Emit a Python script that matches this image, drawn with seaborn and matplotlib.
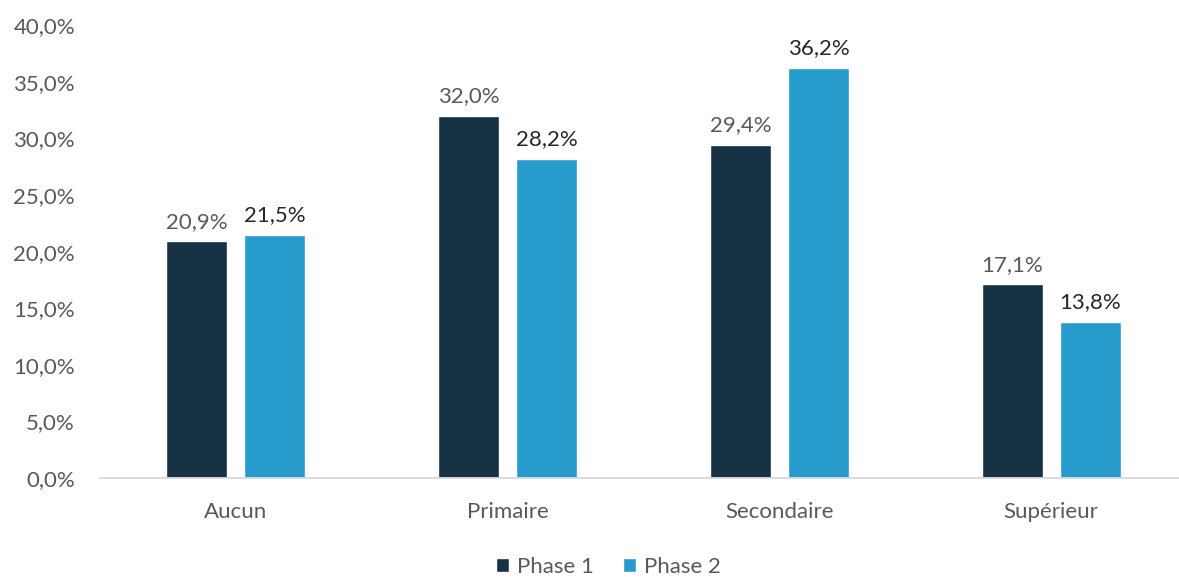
import matplotlib
matplotlib.use("Agg")
import matplotlib.pyplot as plt
from matplotlib.patches import Patch
import seaborn as sns
import pandas as pd

categories = ["Aucun", "Primaire", "Secondaire", "Supérieur"]
phase_names = ["Phase 1", "Phase 2"]
phase1 = [20.9, 32.0, 29.4, 17.1]
phase2 = [21.5, 28.2, 36.2, 13.8]
y_ticks = [0, 5, 10, 15, 20, 25, 30, 35, 40]

colors = ["#163244", "#289BCD"]
label_colors = ["#595959", "#262626"]

df = pd.DataFrame({
    "cat": categories * 2,
    "phase": [phase_names[0]] * 4 + [phase_names[1]] * 4,
    "val": phase1 + phase2,
})

sns.set_theme(style="white")
plt.rcParams["font.family"] = ["Lato", "DejaVu Sans"]

fig = plt.figure(figsize=(11.79, 5.79), dpi=100)
ax = fig.add_axes([0.0848, 0.1744, 0.922, 0.782])

sns.barplot(data=df, x="cat", y="val", hue="phase", order=categories,
            hue_order=phase_names, palette=colors, width=0.575, gap=0.22,
            saturation=1, ax=ax, legend=False)

ax.set_xlim(-0.5, 3.5)
ax.set_ylim(0, 40)
ax.set_yticks(y_ticks)
ax.set_yticklabels([f"{v:.1f}".replace(".", ",") + "%" for v in y_ticks])
ax.set_xlabel("")
ax.set_ylabel("")
ax.tick_params(axis="both", length=0, labelsize=16, labelcolor="#595959")
ax.tick_params(axis="x", pad=17)
ax.tick_params(axis="y", pad=18)

for s in ["top", "right", "left"]:
    ax.spines[s].set_visible(False)
ax.spines["bottom"].set_color("#D9D9D9")
ax.spines["bottom"].set_linewidth(1.3)

for container, vals, lc in zip(ax.containers, [phase1, phase2], label_colors):
    labels = [f"{v:.1f}".replace(".", ",") + "%" for v in vals]
    ax.bar_label(container, labels=labels, padding=7, fontsize=16, color=lc)

handles = [Patch(facecolor=c, label=n) for c, n in zip(colors, phase_names)]
fig.legend(handles=handles, loc="center", bbox_to_anchor=(0.516, 0.021),
           ncol=2, frameon=False, fontsize=16, labelcolor="#595959",
           handlelength=0.6, handleheight=0.6, handletextpad=0.35, columnspacing=1.3)

fig.savefig("out.png", dpi=100)
